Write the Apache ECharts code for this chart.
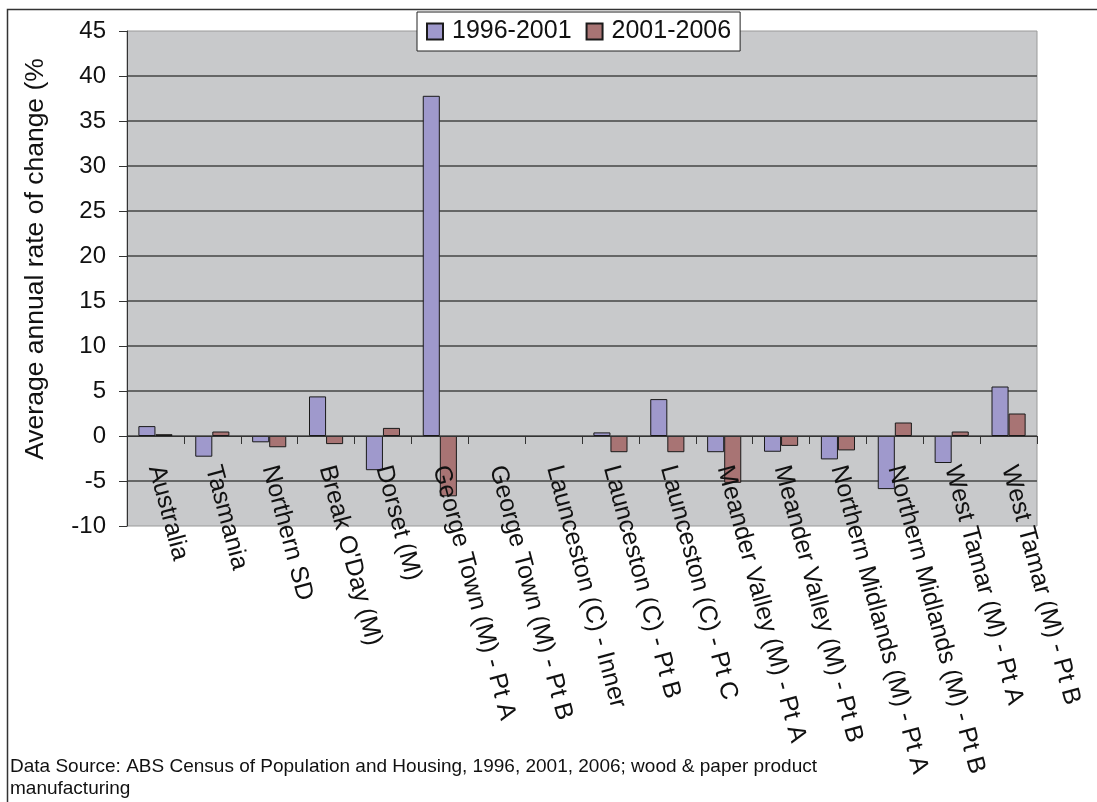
<!DOCTYPE html>
<html><head><meta charset="utf-8">
<script src="https://cdn.jsdelivr.net/npm/echarts@6/dist/echarts.min.js"></script>
<style>html,body{margin:0;padding:0;background:#fff}#c{width:1097px;height:802px}</style>
</head><body><div id="c"></div>
<script>
const categories = ["Australia","Tasmania","Northern SD","Break O'Day (M)","Dorset (M)","George Town (M) - Pt A","George Town (M) - Pt B","Launceston (C) - Inner","Launceston (C) - Pt B","Launceston (C) - Pt C","Meander Valley (M) - Pt A","Meander Valley (M) - Pt B","Northern Midlands (M) - Pt A","Northern Midlands (M) - Pt B","West Tamar (M) - Pt A","West Tamar (M) - Pt B"];
const seriesNames = ["1996-2001", "2001-2006"];
const values1996 = [1.1, -2.3, -0.7, 4.4, -3.8, 37.8, null, null, 0.4, 4.1, -1.8, -1.75, -2.6, -5.9, -3.0, 5.5];
const values2001 = [0.2, 0.5, -1.25, -0.9, 0.9, -6.7, null, null, -1.8, -1.8, -5.2, -1.1, -1.6, 1.5, 0.5, 2.5];
const yMin = -10, yMax = 45, yStep = 5;
const yTitle = "Average annual rate of change (%";
const footnoteLines = ["Data Source: ABS Census of Population and Housing, 1996, 2001, 2006; wood & paper product", "manufacturing"];

const FONT = "'Liberation Sans', Arial, sans-serif";
const GRID_TOP = 31, GRID_BOTTOM = 276, GRID_H = 802 - GRID_TOP - GRID_BOTTOM;
// offset of the category axis so that it sits on the zero line
const zeroOffset = -GRID_H * (0 - yMin) / (yMax - yMin);

const chart = echarts.init(document.getElementById('c'), null, {renderer: 'canvas'});
chart.setOption({
  animation: false,
  backgroundColor: '#ffffff',
  textStyle: {fontFamily: FONT, color: '#000'},
  grid: {left: 127, right: 60, top: GRID_TOP, bottom: GRID_BOTTOM, show: true, backgroundColor: '#c8c9cb', borderColor: '#9a9a9a', borderWidth: 1, containLabel: false, outerBoundsMode: 'none'},
  legend: {
    left: 417, top: 12, padding: [7, 9, 7, 9], itemGap: 14,
    itemWidth: 16, itemHeight: 16, icon: 'rect',
    backgroundColor: '#fff', borderColor: '#222', borderWidth: 1,
    textStyle: {fontFamily: FONT, fontSize: 25, color: '#111', padding: [0, 0, 0, 4]},
    data: seriesNames
  },
  xAxis: {
    type: 'category', data: categories, position: 'bottom', offset: zeroOffset, z: 5,
    axisLine: {onZero: false, lineStyle: {color: '#333', width: 1}},
    axisTick: {show: true, length: 8, inside: false, lineStyle: {color: '#333'}},
    axisLabel: {interval: 0, rotate: -75, margin: 30, fontSize: 25, fontFamily: FONT, color: '#111'},
    splitLine: {show: false}
  },
  yAxis: {
    type: 'value', min: yMin, max: yMax, interval: yStep,
    axisLine: {show: true, lineStyle: {color: '#333'}},
    axisTick: {show: true, length: 8, lineStyle: {color: '#333'}},
    axisLabel: {fontSize: 24, margin: 21, fontFamily: FONT, color: '#111'},
    splitLine: {show: true, showMinLine: false, showMaxLine: false, lineStyle: {color: '#444', width: 1.5}}
  },
  series: [
    {name: seriesNames[0], type: 'bar', data: values1996, barWidth: '30%', barGap: '0%',
     itemStyle: {color: '#9f99cc', borderColor: '#1a1a1a', borderWidth: 1}},
    {name: seriesNames[1], type: 'bar', data: values2001, barWidth: '30%', barGap: '0%',
     itemStyle: {color: '#a87474', borderColor: '#1a1a1a', borderWidth: 1}}
  ],
  graphic: [
    {type: 'rect', z: -1, silent: true, shape: {x: 7.5, y: 9.5, width: 1200, height: 1000}, style: {fill: 'none', stroke: '#333', lineWidth: 1.5}},
    {type: 'text', x: 36, y: 259, rotation: Math.PI / 2, style: {text: yTitle, fontFamily: FONT, fontSize: 26.5, fill: '#111', align: 'center', verticalAlign: 'middle'}},
    {type: 'text', x: 10, y: 767, style: {text: footnoteLines[0], fontFamily: FONT, fontSize: 19, fill: '#111', align: 'left', verticalAlign: 'middle'}},
    {type: 'text', x: 10, y: 789, style: {text: footnoteLines[1], fontFamily: FONT, fontSize: 19, fill: '#111', align: 'left', verticalAlign: 'middle'}}
  ]
});
</script></body></html>
